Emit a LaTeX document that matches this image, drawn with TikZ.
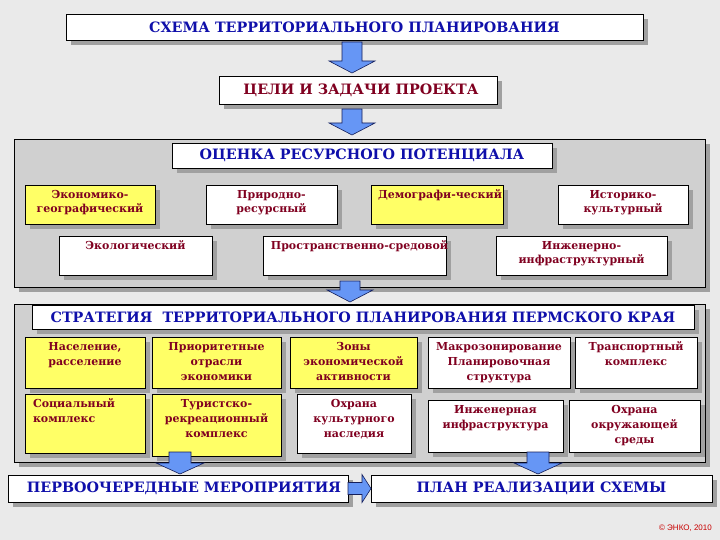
\documentclass[tikz,border=0pt]{standalone}
\usepackage{fontspec}
\setmainfont{DejaVu Serif}
\newfontfamily\cprfont{Liberation Sans}
\usetikzlibrary{shadows,calc}
\definecolor{bg}{RGB}{234,234,234}
\definecolor{panelgray}{RGB}{208,208,208}
\definecolor{shadowgray}{RGB}{160,160,160}
\definecolor{tblue}{RGB}{15,15,170}
\definecolor{dred}{RGB}{128,0,32}
\definecolor{yel}{RGB}{255,255,102}
\definecolor{arrowblue}{RGB}{102,150,245}
\definecolor{arrowline}{RGB}{20,30,90}
\definecolor{cpr}{RGB}{200,0,0}
\tikzset{
  shad/.style={drop shadow={shadow xshift=5pt,shadow yshift=-5pt,fill=shadowgray,opacity=1}},
  panel/.style={draw=black,line width=0.8pt,fill=panelgray,inner sep=0pt,outer sep=0pt,shad},
  hdr/.style={draw=black,line width=0.8pt,fill=white,inner sep=0pt,outer sep=0pt,shad,
    font=\bfseries\fontsize{14.3}{16}\selectfont,text=tblue},
  box/.style={draw=black,line width=0.8pt,inner sep=0pt,outer sep=0pt,shad,
    font=\bfseries\fontsize{11}{14}\selectfont,text=dred},
  boxb/.style={box,font=\bfseries\fontsize{11}{15}\selectfont},
  barrow/.style={draw=arrowline,fill=arrowblue,line width=0.6pt,line join=miter}
}
% header box: name, x1,y1,x2,y2, text
\newcommand\hbx[6]{%
  \node[hdr,minimum width={#4-#2},minimum height={#5-#3}] (#1) at ({(#2+#4)/2},{(#3+#5)/2}) {#6};}
% content box: style,name, x1,y1,x2,y2, fill, align+text
\newcommand\cbx[8]{%
  \node[#1,fill=#7] (#2) at ({(#3+#5)/2},{(#4+#6)/2})
  {\begin{minipage}[c][\dimexpr #6pt-#4pt\relax][t]{\dimexpr #5pt-#3pt\relax}\vspace*{5pt}#8\par\end{minipage}};}
% down block arrow: x, from node, to node, start lift, tip offset
\newcommand\darrow[5]{%
  \path[barrow] let \p1=(#2.south), \p2=(#3.north) in
   (#1pt-10pt,\y1+#4) -- (#1pt+10pt,\y1+#4) -- (#1pt+10pt,\y2+#5+12pt) -- (#1pt+23pt,\y2+#5+12pt)
   -- (#1pt,\y2+#5) -- (#1pt-23pt,\y2+#5+12pt) -- (#1pt-10pt,\y2+#5+12pt) -- cycle;}
\begin{document}
\begin{tikzpicture}[x=1pt,y=-1pt]
\useasboundingbox (0,0) rectangle (720,540);
\fill[bg] (0,0) rectangle (720,540);

% top
\hbx{title}{66}{14}{643}{40}{СХЕМА ТЕРРИТОРИАЛЬНОГО ПЛАНИРОВАНИЯ}
\node[hdr,text=dred,minimum width=278,minimum height=28] (goals) at (358,90) {\hspace*{6pt}ЦЕЛИ И ЗАДАЧИ ПРОЕКТА};

% panel 1
\node[panel,minimum width=691,minimum height=148] (p1) at (359.5,213) {};
\hbx{assess}{172}{143}{552}{168}{ОЦЕНКА РЕСУРСНОГО ПОТЕНЦИАЛА}
\cbx{box}{econ}{25}{185}{155}{224}{yel}{\centering Экономико-\\географический}
\cbx{box}{prir}{206}{185}{337}{224}{white}{\centering Природно-\\ресурсный}
\cbx{box}{demo}{371}{185}{503}{224}{yel}{\makebox[\linewidth]{\hspace*{6pt}Демографи-ческий}}
\cbx{box}{hist}{558}{185}{688}{224}{white}{\centering Историко-\\культурный}
\cbx{box}{ecol}{59}{236}{212}{275}{white}{\centering Экологический}
\cbx{box}{prost}{263}{236}{446}{275}{white}{\makebox[\linewidth]{\hspace*{10pt}Пространственно-средовой}}
\cbx{box}{inzh}{496}{236}{667}{275}{white}{\centering Инженерно-\\инфраструктурный}

% panel 2
\node[panel,minimum width=691,minimum height=158] (p2) at (359.5,383) {};
\hbx{strat}{32}{305}{694}{329}{СТРАТЕГИЯ\ \ ТЕРРИТОРИАЛЬНОГО ПЛАНИРОВАНИЯ ПЕРМСКОГО КРАЯ}
\cbx{boxb}{nas}{25}{337}{145}{388}{yel}{\centering Население,\\расселение}
\cbx{boxb}{prio}{152}{337}{281}{388}{yel}{\centering Приоритетные\\отрасли\\экономики}
\cbx{boxb}{zony}{290}{337}{417}{388}{yel}{\centering Зоны\\экономической\\активности}
\cbx{boxb}{makro}{428}{337}{570}{388}{white}{\centering Макрозонирование\\Планировочная\\структура}
\cbx{boxb}{trans}{575}{337}{697}{388}{white}{\centering Транспортный\\комплекс}
\cbx{boxb}{soc}{25}{394}{145}{453}{yel}{\raggedright\leftskip=8pt Социальный\\комплекс}
\cbx{boxb}{tur}{152}{394}{281}{456}{yel}{\centering Туристско-\\рекреационный\\комплекс}
\cbx{boxb}{ohr}{297}{394}{411}{453}{white}{\centering Охрана\\культурного\\наследия}
\cbx{boxb}{inf}{428}{400}{563}{452}{white}{\centering Инженерная\\инфраструктура}
\cbx{boxb}{okr}{569}{400}{700}{452}{white}{\centering Охрана\\окружающей\\среды}

% bottom
\hbx{first}{8}{475}{348}{502}{\hspace*{12pt}ПЕРВООЧЕРЕДНЫЕ МЕРОПРИЯТИЯ}
\hbx{plan}{371}{475}{712}{502}{ПЛАН РЕАЛИЗАЦИИ СХЕМЫ}

% arrows
\darrow{352}{title}{goals}{-2pt}{3pt}
\darrow{352}{goals}{p1}{-5pt}{4pt}
\darrow{350}{p1}{p2}{6pt}{2pt}
\path[barrow] let \p1=(tur.south), \p2=(first.north) in
   (180pt-11pt,\y1+4pt) -- (180pt+11pt,\y1+4pt) -- (180pt+11pt,\y2+12pt) -- (180pt+24pt,\y2+12pt)
   -- (180pt,\y2+1pt) -- (180pt-24pt,\y2+12pt) -- (180pt-11pt,\y2+12pt) -- cycle;
\path[barrow] let \p1=(inf.south), \p2=(plan.north) in
   (538pt-11pt,\y1+0pt) -- (538pt+11pt,\y1+0pt) -- (538pt+11pt,\y2+12pt) -- (538pt+24pt,\y2+12pt)
   -- (538pt,\y2+1pt) -- (538pt-24pt,\y2+12pt) -- (538pt-11pt,\y2+12pt) -- cycle;
\path[barrow] let \p1=(first.east), \p2=(plan.west) in
   (\x1,\y1+6pt) -- (\x2-9pt,\y1+6pt) -- (\x2-9pt,\y1+14pt) -- (\x2,\y1) -- (\x2-9pt,\y1-14pt)
   -- (\x2-9pt,\y1-6pt) -- (\x1,\y1-6pt) -- cycle;

\node[font=\cprfont\fontsize{8}{9}\selectfont,text=cpr,anchor=east,inner sep=0pt] (cpr) at (712,528) {© ЭНКО, 2010};
\end{tikzpicture}
\end{document}
